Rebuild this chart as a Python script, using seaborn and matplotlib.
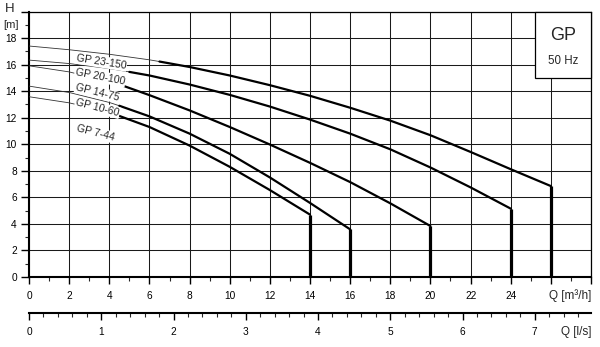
import numpy as np
import pandas as pd
import matplotlib
matplotlib.use("Agg")
import matplotlib.pyplot as plt
import seaborn as sns
from matplotlib.patches import Rectangle
from matplotlib.ticker import MultipleLocator

# ---------------- data ----------------
pumps = ["GP 23-150", "GP 20-100", "GP 14-75", "GP 10-60", "GP 7-44"]

q_23_150 = [0, 2, 4, 6, 6.5, 8, 10, 12, 14, 16, 18, 20, 22, 24, 26]
h_23_150 = [17.4, 17.12, 16.78, 16.36, 16.23, 15.82, 15.18, 14.45, 13.65, 12.75, 11.78, 10.68, 9.42, 8.12, 6.85]

q_20_100 = [0, 2, 4, 5, 6, 8, 10, 12, 14, 16, 18, 20, 22, 24]
h_20_100 = [16.34, 16.08, 15.7, 15.45, 15.18, 14.5, 13.72, 12.84, 11.86, 10.8, 9.62, 8.25, 6.75, 5.15]

q_14_75 = [0, 2, 4, 4.7, 6, 8, 10, 12, 14, 16, 18, 20]
h_14_75 = [15.91, 15.45, 14.7, 14.4, 13.7, 12.55, 11.3, 9.98, 8.6, 7.15, 5.55, 3.84]

q_10_60 = [0, 2, 4, 4.5, 6, 8, 10, 12, 14, 16]
h_10_60 = [14.38, 13.9, 13.15, 12.9, 12.1, 10.8, 9.28, 7.5, 5.58, 3.59]

q_7_44 = [0, 2, 4, 4.2, 6, 8, 10, 12, 14]
h_7_44 = [13.58, 13.12, 12.4, 12.3, 11.3, 9.9, 8.3, 6.55, 4.7]

thick_from = [6.5, 5.0, 4.7, 4.5, 4.2]        # Q where the bold curve begins
label_q = [3.59, 3.54, 3.41, 3.41, 3.34]       # label anchor Q
label_h = [16.21, 15.08, 13.89, 12.76, 10.84]  # label anchor H

q_ticks = [0, 2, 4, 6, 8, 10, 12, 14, 16, 18, 20, 22, 24, 26, 28]
q_ticklabels = ["0", "2", "4", "6", "8", "10", "12", "14", "16", "18", "20", "22", "24", "", ""]
h_ticks = [0, 2, 4, 6, 8, 10, 12, 14, 16, 18, 20]
h_ticklabels = ["0", "2", "4", "6", "8", "10", "12", "14", "16", "18", ""]
ls_ticks = [0, 1, 2, 3, 4, 5, 6, 7]
m3h_per_ls = 3.6

curves_q = [q_23_150, q_20_100, q_14_75, q_10_60, q_7_44]
curves_h = [h_23_150, h_20_100, h_14_75, h_10_60, h_7_44]

# ---------------- styling ----------------
sns.set_style("white")
plt.rcParams["font.family"] = ["Liberation Sans", "DejaVu Sans"]

fig = plt.figure(figsize=(6.0, 3.47), dpi=100)
W, H = 600, 347
left, right, top, bottom = 29 / W, 591 / W, 1 - 11.5 / H, 1 - 277 / H
ax = fig.add_axes([left, bottom, right - left, top - bottom])

ax.set_xlim(0, 28)
ax.set_ylim(0, 20)

ax.set_xticks(q_ticks)
ax.set_xticklabels(q_ticklabels)
ax.set_yticks(h_ticks)
ax.set_yticklabels(h_ticklabels)
ax.xaxis.set_minor_locator(MultipleLocator(1))
ax.yaxis.set_minor_locator(MultipleLocator(1))
ax.grid(True, which="major", color="#1a1a1a", linewidth=0.75)
ax.set_axisbelow(True)

ax.tick_params(axis="x", which="major", direction="out", length=5.2, width=1.0,
               pad=5.0, labelsize=7.3, colors="black", bottom=True)
ax.tick_params(axis="x", which="minor", direction="out", length=2.8, width=0.8, bottom=True)
ax.tick_params(axis="y", which="major", direction="out", length=5.8, width=1.0,
               pad=3.0, labelsize=7.3, colors="black", left=True)
ax.tick_params(axis="y", which="minor", direction="out", length=2.8, width=0.8, left=True)

for s in ["top", "right"]:
    ax.spines[s].set_linewidth(0.9)
    ax.spines[s].set_color("black")
for s in ["left", "bottom"]:
    ax.spines[s].set_linewidth(1.5)
    ax.spines[s].set_color("black")

# curves
rows = []
for name, qs, hs in zip(pumps, curves_q, curves_h):
    for q, h in zip(qs, hs):
        rows.append({"pump": name, "Q": q, "H": h})
df = pd.DataFrame(rows)

for name, split in zip(pumps, thick_from):
    d = df[df["pump"] == name]
    thin = d[d["Q"] <= split]
    thick = d[d["Q"] >= split]
    sns.lineplot(data=thin, x="Q", y="H", ax=ax, color="#333333", linewidth=0.6,
                 sort=False, estimator=None, zorder=3)
    sns.lineplot(data=thick, x="Q", y="H", ax=ax, color="black", linewidth=1.6,
                 sort=False, estimator=None, zorder=4)
    end = d.iloc[-1]
    ax.vlines(end["Q"], 0, end["H"], color="black", linewidth=2.3, zorder=4)

ax.set_xlabel("")
ax.set_ylabel("")

# curve labels
rotations = [-9, -11, -14, -14.5, -14.5]
for name, lq, lh, rot in zip(pumps, label_q, label_h, rotations):
    ax.text(lq, lh, name, fontsize=7.6, rotation=rot, rotation_mode="anchor",
            ha="center", va="center", zorder=5,
            bbox=dict(facecolor="white", edgecolor="none", pad=0.6))

# GP / 50 Hz box
ax.add_patch(Rectangle((25.2, 15.0), 2.8, 5.0, facecolor="white", edgecolor="black",
                       linewidth=0.9, zorder=6, clip_on=False))
ax.text(26.6, 18.2, "GP", fontsize=13, ha="center", va="center", zorder=7)
ax.text(26.6, 16.3, "50 Hz", fontsize=8.3, ha="center", va="center", zorder=7)

# axis titles
fig.text(10 / W, 1 - 8.7 / H, "H", fontsize=9.5, ha="center", va="center")
fig.text(11 / W, 1 - 25 / H, "[m]", fontsize=8, ha="center", va="center")
fig.text(591.5 / W, 1 - 295.5 / H, "Q [m³/h]", fontsize=8.5, ha="right", va="center")

# secondary l/s axis
ax2 = fig.add_axes([left, 1 - 312.7 / H, right - left, 0.0001])
ax2.set_xlim(0, 28 / m3h_per_ls)
ax2.set_facecolor("none")
for s in ["top", "right", "left"]:
    ax2.spines[s].set_visible(False)
ax2.spines["bottom"].set_linewidth(1.5)
ax2.spines["bottom"].set_color("black")
ax2.set_yticks([])
ax2.set_xticks(ls_ticks)
ax2.set_xticklabels([str(t) for t in ls_ticks])
ax2.xaxis.set_minor_locator(MultipleLocator(0.2))
ax2.tick_params(axis="x", which="major", direction="out", length=5.2, width=1.0,
                pad=5.0, labelsize=7.3, colors="black", bottom=True)
ax2.tick_params(axis="x", which="minor", direction="out", length=2.8, width=0.8, bottom=True)
fig.text(591.5 / W, 1 - 331.5 / H, "Q [l/s]", fontsize=8.5, ha="right", va="center")

fig.savefig("out.png", dpi=100)
